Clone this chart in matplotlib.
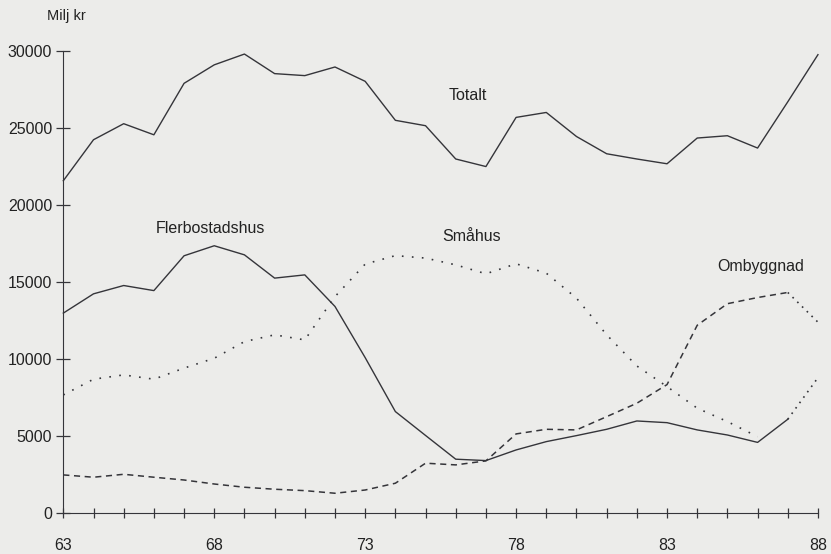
import matplotlib
matplotlib.use("Agg")
import matplotlib.pyplot as plt

# years 1963-1988
years = list(range(63, 89))

totalt = [21580, 24240, 25280, 24560, 27900, 29100, 29800, 28530, 28400, 28960,
          28030, 25500, 25150, 22990, 22500, 25690, 26010, 24450, 23330, 22990,
          22680, 24350, 24500, 23700, 26700, 29760]

# Flerbostadshus 63-87, then projection 87-88 (dotted)
fler_years = list(range(63, 88))
fler = [12990, 14240, 14780, 14450, 16710, 17360, 16770, 15260, 15470, 13420,
        10100, 6600, 5050, 3510, 3420, 4110, 4650, 5040, 5450, 5990,
        5880, 5410, 5080, 4600, 6100]
fler_proj_years = [87, 88]
fler_proj = [6100, 8800]

smahus_years = list(range(63, 87))
smahus = [7680, 8700, 8980, 8700, 9420, 10060, 11140, 11580, 11250, 14060,
          16170, 16720, 16560, 16120, 15540, 16190, 15580, 13960, 11580, 9560,
          8220, 6820, 5950, 4970]

omb_years = list(range(63, 88))
omb = [2490, 2340, 2530, 2340, 2160, 1900, 1690, 1560, 1470, 1300,
       1510, 1950, 3250, 3140, 3400, 5150, 5450, 5410, 6270, 7140,
       8350, 12200, 13600, 14000, 14330]
omb_proj_years = [87, 88]
omb_proj = [14330, 12400]

xticks = list(range(63, 89))
yticks = [0, 5000, 10000, 15000, 20000, 25000, 30000]

bg = "#ececea"
ink = "#35353a"
txt = "#222222"

plt.rcParams['font.family'] = ['Liberation Sans', 'DejaVu Sans']

fig = plt.figure(figsize=(8.31, 5.54), dpi=100, facecolor=bg)
ax = fig.add_axes([0.0762, 0.0735, 0.9081, 0.8345], facecolor=bg)

ax.plot(years, totalt, color=ink, lw=1.0, clip_on=False)
ax.plot(fler_years, fler, color=ink, lw=1.0, clip_on=False)
ax.plot(fler_proj_years, fler_proj, color=ink, lw=1.2, linestyle=(0, (1, 3)), clip_on=False)
ax.plot(smahus_years, smahus, color=ink, lw=1.2, linestyle=(0, (1, 5)), clip_on=False)
ax.plot(omb_years, omb, color=ink, lw=1.1, linestyle=(0, (4, 3)), clip_on=False)
ax.plot(omb_proj_years, omb_proj, color=ink, lw=1.2, linestyle=(0, (1, 3)), clip_on=False)

ax.set_xlim(63, 88)
ax.set_ylim(0, 30000)

ax.spines['top'].set_visible(False)
ax.spines['right'].set_visible(False)
ax.spines['left'].set_color(ink)
ax.spines['bottom'].set_color(ink)

ax.set_xticks(xticks)
ax.set_xticklabels([str(y) if y % 5 == 3 else "" for y in xticks])
ax.set_yticks(yticks)
ax.set_yticklabels([str(v) for v in yticks])
ax.tick_params(axis='x', direction='inout', length=7, width=0.9, color=ink,
               labelsize=11.5, pad=14, labelcolor=txt)
ax.tick_params(axis='y', direction='inout', length=10, width=0.9, color=ink,
               labelsize=11.5, pad=3, labelcolor=txt)

ax.text(63.1, 32300, "Milj kr", ha='center', va='center', fontsize=10.5, color=txt)
ax.text(76.39, 27140, "Totalt", ha='center', va='center', fontsize=11.5, color=txt)
ax.text(67.89, 18510, "Flerbostadshus", ha='center', va='center', fontsize=11.5, color=txt)
ax.text(76.52, 17930, "Småhus", ha='center', va='center', fontsize=11.5, color=txt)
ax.text(86.11, 16010, "Ombyggnad", ha='center', va='center', fontsize=11.5, color=txt)

fig.savefig("out.png", dpi=100, facecolor=bg)
